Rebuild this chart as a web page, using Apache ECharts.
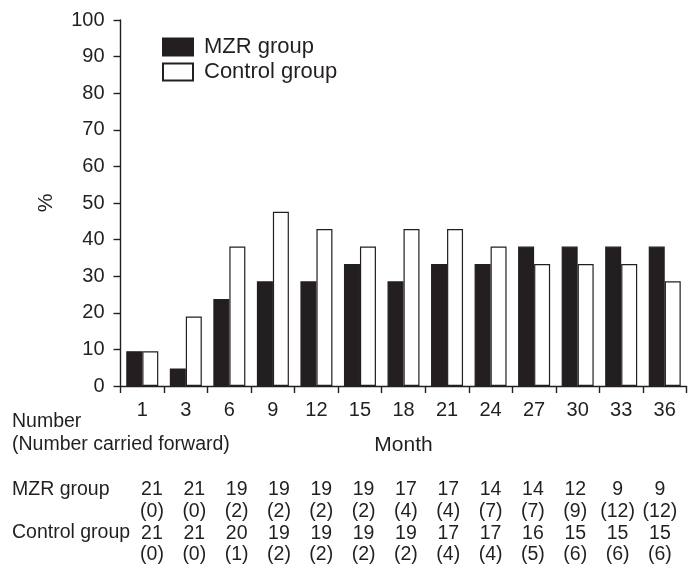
<!DOCTYPE html>
<html>
<head>
<meta charset="utf-8">
<script src="https://cdn.jsdelivr.net/npm/echarts@6/dist/echarts.min.js"></script>
<style>
html,body{margin:0;padding:0;background:#fff;}
#chart{width:700px;height:574px;}
</style>
</head>
<body>
<div id="chart"></div>
<script>
// ---- data ----
var months = ['1','3','6','9','12','15','18','21','24','27','30','33','36'];
var seriesNames = ['MZR group', 'Control group'];
var mzrPct = [9.5, 4.8, 23.8, 28.6, 28.6, 33.3, 28.6, 33.3, 33.3, 38.1, 38.1, 38.1, 38.1];
var ctrlPct = [9.5, 19.0, 38.1, 47.6, 42.9, 38.1, 42.9, 42.9, 38.1, 33.3, 33.3, 33.3, 28.6];
var mzrNumber = [21, 21, 19, 19, 19, 19, 17, 17, 14, 14, 12, 9, 9];
var mzrCarried = [0, 0, 2, 2, 2, 2, 4, 4, 7, 7, 9, 12, 12];
var ctrlNumber = [21, 21, 20, 19, 19, 19, 19, 17, 17, 16, 15, 15, 15];
var ctrlCarried = [0, 0, 1, 2, 2, 2, 2, 4, 4, 5, 6, 6, 6];
var tableHead = ['Number', '(Number carried forward)'];
var xTitle = 'Month';
var yTitle = '%';

// ---- styles ----
var INK = '#231f20';
var FONT = '"Liberation Sans", Arial, Helvetica, sans-serif';

var chart = echarts.init(document.getElementById('chart'), null, {renderer: 'canvas'});

var option = {
  backgroundColor: '#ffffff',
  animation: false,
  textStyle: {fontFamily: FONT, color: INK},
  legend: {
    orient: 'vertical',
    left: 157,
    top: 31,
    itemWidth: 30,
    itemHeight: 17,
    itemGap: 3,
    icon: 'rect',
    textStyle: {fontFamily: FONT, fontSize: 22, color: INK, padding: [0, 0, 0, 6]},
    data: seriesNames
  },
  grid: [
    {left: 120.5, right: 13.5, top: 20, height: 366, containLabel: false},
    {left: 130.8, width: 550.3, top: 460, height: 10, containLabel: false}
  ],
  xAxis: [
    {
      type: 'category',
      gridIndex: 0,
      data: months,
      boundaryGap: true,
      axisLine: {show: true, lineStyle: {color: INK, width: 1.4}},
      axisTick: {show: true, length: 7, alignWithLabel: false, interval: 0, lineStyle: {color: INK, width: 1.4}},
      axisLabel: {fontFamily: FONT, fontSize: 20, color: INK, margin: 14, interval: 0},
      splitLine: {show: false},
      name: xTitle,
      nameLocation: 'middle',
      nameGap: 49,
      nameTextStyle: {fontFamily: FONT, fontSize: 21, color: INK}
    },
    {
      type: 'category',
      gridIndex: 1,
      data: months,
      position: 'bottom',
      axisLine: {show: false},
      axisTick: {show: false},
      splitLine: {show: false},
      axisLabel: {
        interval: 0,
        margin: 9,
        fontFamily: FONT,
        fontSize: 19.5,
        lineHeight: 21.7,
        color: INK,
        align: 'center',
        verticalAlign: 'top',
        formatter: function (v, i) {
          return mzrNumber[i] + '\n(' + mzrCarried[i] + ')\n' + ctrlNumber[i] + '\n(' + ctrlCarried[i] + ')';
        }
      }
    }
  ],
  yAxis: [
    {
      type: 'value',
      gridIndex: 0,
      min: 0,
      max: 100,
      interval: 10,
      axisLine: {show: true, lineStyle: {color: INK, width: 1.4}},
      axisTick: {show: true, length: 7, lineStyle: {color: INK, width: 1.4}},
      axisLabel: {fontFamily: FONT, fontSize: 20, color: INK, margin: 16},
      splitLine: {show: false},
      name: yTitle,
      nameLocation: 'middle',
      nameGap: 64,
      nameTextStyle: {fontFamily: FONT, fontSize: 21, color: INK}
    },
    {
      type: 'value',
      gridIndex: 1,
      show: false
    }
  ],
  series: [
    {
      name: seriesNames[0],
      type: 'bar',
      xAxisIndex: 0,
      yAxisIndex: 0,
      data: mzrPct,
      barWidth: 16,
      barGap: '0%',
      itemStyle: {color: INK, borderColor: INK, borderWidth: 1.2}
    },
    {
      name: seriesNames[1],
      type: 'bar',
      xAxisIndex: 0,
      yAxisIndex: 0,
      data: ctrlPct,
      barWidth: 16,
      barGap: '0%',
      itemStyle: {color: '#ffffff', borderColor: INK, borderWidth: 1.2}
    }
  ],
  graphic: [
    {type: 'text', left: 12, top: 412, style: {text: tableHead[0], font: '19.5px ' + FONT, fill: INK}},
    {type: 'text', left: 12, top: 435, style: {text: tableHead[1], font: '19.5px ' + FONT, fill: INK}},
    {type: 'text', left: 12, top: 480, style: {text: seriesNames[0], font: '19.5px ' + FONT, fill: INK}},
    {type: 'text', left: 12, top: 523, style: {text: seriesNames[1], font: '19.5px ' + FONT, fill: INK}}
  ]
};

chart.setOption(option);
</script>
</body>
</html>
